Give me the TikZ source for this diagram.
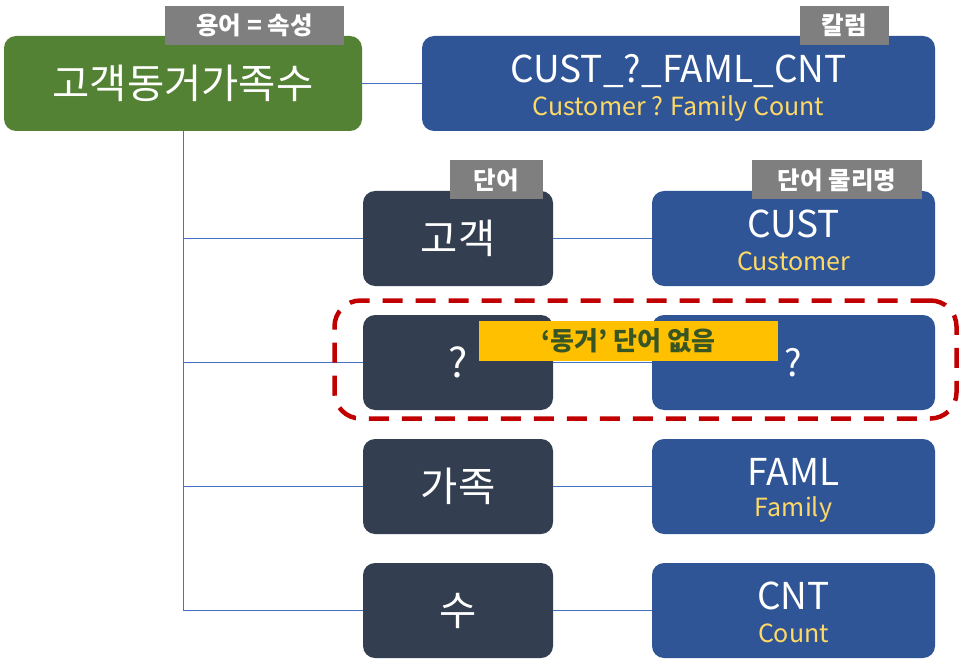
\documentclass[tikz,border=0pt]{standalone}
\usepackage{fontspec}
\setmainfont{Noto Sans CJK KR}
\definecolor{cgreen}{HTML}{548235}
\definecolor{cgray}{HTML}{7F7F7F}
\definecolor{cdark}{HTML}{333F50}
\definecolor{cblue}{HTML}{2F5597}
\definecolor{cyel}{HTML}{FFD966}
\definecolor{corange}{HTML}{FFC000}
\definecolor{cdgreen}{HTML}{375623}
\definecolor{cred}{HTML}{C00000}
\definecolor{cline}{HTML}{4472C4}
\newcommand{\bigtxt}{\fontsize{37}{40}\selectfont}
\newcommand{\kortxt}{\fontsize{40.5}{44}\selectfont}
\newcommand{\subtxt}{\fontsize{25}{27}\selectfont}
\newcommand{\tagtxt}{\fontsize{24.5}{26}\selectfont\bfseries}
\begin{document}
\begin{tikzpicture}[x=1pt,y=-1pt,
  box/.style={rounded corners=12pt, inner sep=0pt, text=white, align=center, font=\kortxt},
  termbox/.style={box, fill=cgreen, minimum width=358pt, minimum height=95pt},
  colbox/.style={box, fill=cblue, minimum width=513pt, minimum height=95pt},
  wordbox/.style={box, fill=cdark, minimum width=190pt, minimum height=95pt},
  physbox/.style={box, fill=cblue, minimum width=283pt, minimum height=95pt},
  tagbox/.style={fill=cgray, text=white, inner sep=0pt, minimum height=39pt, font=\tagtxt},
  conn/.style={draw=cline, line width=0.9pt},
  main/.style={text=white, font=\bigtxt, inner sep=0pt},
  sub/.style={text=cyel, font=\subtxt, inner sep=0pt}]
\useasboundingbox (0,0) rectangle (968,668);
\fill[white] (0,0) rectangle (968,668);

\coordinate (trunk) at (183,131);
\coordinate (trunkend) at (183,611);

\node[termbox] (term) at (183,83.5) {고객동거가족수};
\node[colbox] (col) at (678.5,83.5) {};
\node[main] (colname) at (678.5,71) {CUST\_?\_FAML\_CNT};
\node[sub] (colsub) at (678.5,108) {Customer ? Family Count};

\foreach \n/\y/\w in {1/238.5/고객, 2/362.5/?, 3/486.5/가족, 4/610.5/수}{
  \node[wordbox] (w\n) at (458,\y) {\w};
  \node[physbox] (p\n) at (793.5,\y) {};
  \coordinate (b\n) at (183,\y);
}
\node[main] (pn1) at (793.5,224) {CUST};
\node[sub] (ps1) at (793.5,261) {Customer};
\node[main] (pn2) at (793.5,363) {?};
\node[main] (pn3) at (793.5,472) {FAML};
\node[sub] (ps3) at (793.5,509) {Family};
\node[main] (pn4) at (793.5,596) {CNT};
\node[sub] (ps4) at (793.5,633) {Count};

\draw[conn] (term.east) -- (col.west);
\draw[conn] (term.south -| trunk) -- (trunkend);
\foreach \n in {1,2,3,4}{
  \draw[conn] (b\n) -- (w\n.west);
  \draw[conn] (w\n.east) -- (p\n.west);
}

% tags
\node[tagbox, minimum width=179pt] (tterm) at (254.5,25.5) {용어 = 속성};
\node[tagbox, minimum width=89pt] (tcol) at (844,25.5) {칼럼};
\node[tagbox, minimum width=93pt] (tword) at (496.5,180) {단어};
\node[tagbox, minimum width=170pt] (tphys) at (837,180) {단어 물리명};

% dashed highlight
\node[draw=cred, line width=4.5pt, dash pattern=on 20pt off 13pt, rounded corners=26pt,
  minimum width=622pt, minimum height=118pt, inner sep=0pt] (hl) at (645.5,359.5) {};
\node[fill=corange, text=cdgreen, inner sep=0pt, minimum width=299pt, minimum height=40pt,
  font=\fontsize{26}{28}\selectfont\bfseries] (note) at (628.5,341) {‘동거’ 단어 없음};
\end{tikzpicture}
\end{document}
